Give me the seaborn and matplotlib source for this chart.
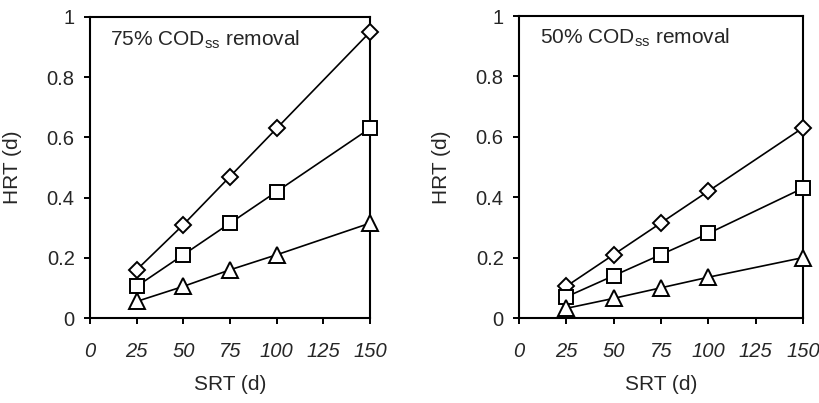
import matplotlib
matplotlib.use("Agg")
import matplotlib.pyplot as plt
import seaborn as sns
import pandas as pd

srt = [25, 50, 75, 100, 150]

# 75% COD_ss removal
left_diamond = [0.16, 0.31, 0.47, 0.63, 0.95]
left_square = [0.105, 0.21, 0.315, 0.42, 0.63]
left_triangle = [0.055, 0.105, 0.16, 0.21, 0.315]

# 50% COD_ss removal
right_diamond = [0.105, 0.21, 0.315, 0.42, 0.63]
right_square = [0.07, 0.14, 0.21, 0.28, 0.43]
right_triangle = [0.032, 0.065, 0.10, 0.135, 0.20]

x_ticks = [0, 25, 50, 75, 100, 125, 150]
y_ticks = [0, 0.2, 0.4, 0.6, 0.8, 1.0]
y_labels = ["0", "0.2", "0.4", "0.6", "0.8", "1"]
titles = [r"75% COD$_{\mathrm{ss}}$ removal", r"50% COD$_{\mathrm{ss}}$ removal"]

sns.set_style("ticks")
plt.rcParams["font.family"] = ["Liberation Sans", "DejaVu Sans"]
plt.rcParams["mathtext.fontset"] = "custom"
plt.rcParams["mathtext.rm"] = "Liberation Sans"
plt.rcParams["mathtext.it"] = "Liberation Sans:italic"

fig = plt.figure(figsize=(8.2, 4.03), dpi=100)
ax1 = fig.add_axes([90 / 820, 1 - 318 / 403, 280 / 820, 301 / 403])
ax2 = fig.add_axes([519 / 820, 1 - 318 / 403, 284 / 820, 302 / 403])

panels = [
    (ax1, left_diamond, left_square, left_triangle, titles[0], (0.071, 0.924)),
    (ax2, right_diamond, right_square, right_triangle, titles[1], (0.074, 0.927)),
]

for ax, dia, sq, tri, title, pos in panels:
    for vals, mk, ms in [(dia, "D", 8.5), (sq, "s", 10.5), (tri, "^", 11)]:
        df = pd.DataFrame({"SRT": srt, "HRT": vals})
        sns.lineplot(data=df, x="SRT", y="HRT", ax=ax, color="black", lw=1.2,
                     marker=mk, markersize=ms, markerfacecolor="white",
                     markeredgecolor="black", markeredgewidth=1.4, zorder=3,
                     clip_on=False)
    ax.set_xlim(0, 150)
    ax.set_ylim(0, 1)
    ax.set_xticks(x_ticks)
    ax.set_yticks(y_ticks)
    ax.set_yticklabels(y_labels)
    ax.tick_params(axis="both", labelsize=14.5, length=4.5, width=1.4, direction="out", color="black")
    ax.tick_params(axis="x", pad=13)
    ax.tick_params(axis="y", pad=6.5)
    for lab in ax.get_xticklabels():
        lab.set_fontstyle("italic")
    for s in ax.spines.values():
        s.set_visible(True)
        s.set_linewidth(1.5)
        s.set_color("black")
    ax.set_xlabel("SRT (d)", fontsize=15, labelpad=10)
    ax.set_ylabel("HRT (d)", fontsize=15, labelpad=18)
    ax.text(pos[0], pos[1], title, transform=ax.transAxes, fontsize=15, va="center", ha="left")
    ax.set_facecolor("white")

fig.savefig("out.png", dpi=100, facecolor="white")
